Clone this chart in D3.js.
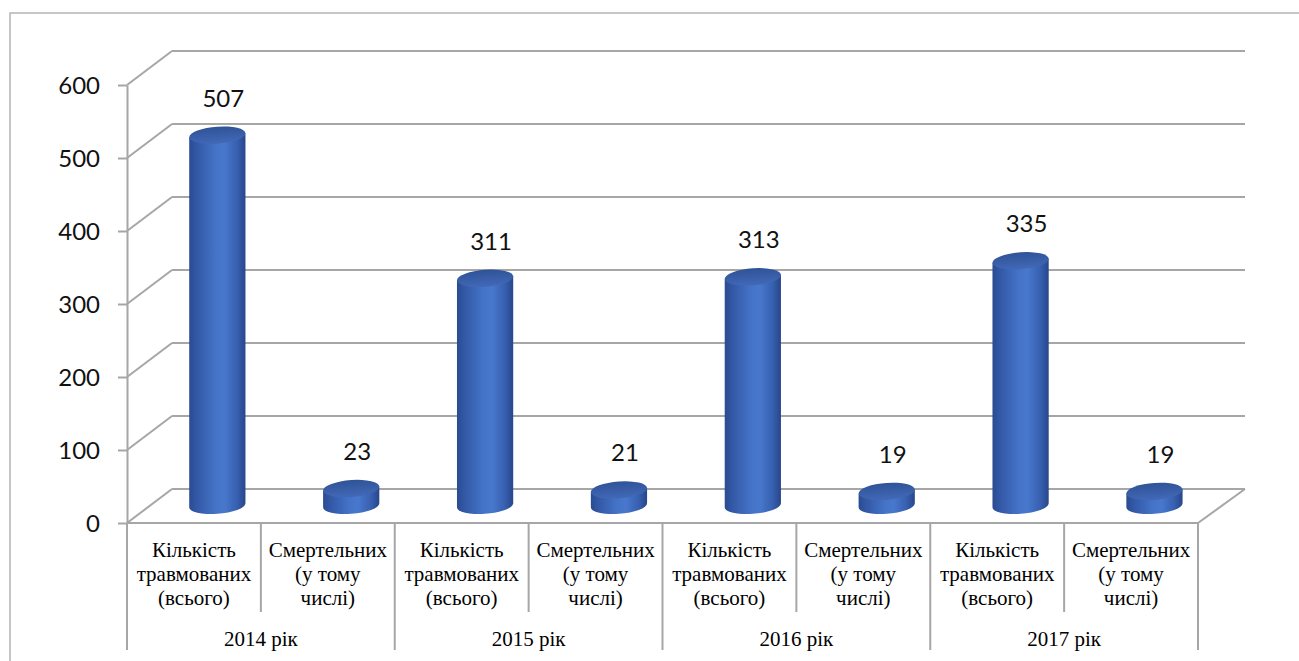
<!DOCTYPE html>
<html>
<head>
<meta charset="utf-8">
<script src="https://cdn.jsdelivr.net/npm/d3@7"></script>
<style>
  html, body { margin: 0; padding: 0; background: #fff; }
  svg { display: block; }
</style>
</head>
<body>
<svg id="chart" width="1299" height="661"></svg>
<script>
// Injury statistics by year
const years = ["2014 рік", "2015 рік", "2016 рік", "2017 рік"];
const subCategories = ["Кількість травмованих (всього)", "Смертельних (у тому числі)"];
const subLabelLines = [["Кількість", "травмованих", "(всього)"], ["Смертельних", "(у тому", "числі)"]];
const injuredTotal = [507, 311, 313, 335];
const fatalIncluded = [23, 21, 19, 19];
const yTicks = [0, 100, 200, 300, 400, 500, 600];

// Flat list of bars: two per year
const rows = [];
years.forEach((yr, i) => {
  rows.push({ key: yr + "|0", year: yr, sub: 0, value: injuredTotal[i] });
  rows.push({ key: yr + "|1", year: yr, sub: 1, value: fatalIncluded[i] });
});

const svg = d3.select("#chart");
const GRID = "#a6a6a6";

// Front plane scales; the back wall is offset by a fixed depth vector
const x = d3.scaleBand().domain(rows.map(d => d.key)).range([127, 1198]).paddingInner(0).paddingOuter(0);
const y = d3.scaleLinear().domain([0, 600]).range([523, 85]);
const DX = 45, DY = -34;
const yBack = v => y(v) + DY;
const BAR_DEPTH = 0.52;                 // bars stand midway into the floor
const yBar = v => y(v) + DY * BAR_DEPTH;

// Outer chart frame
svg.append("path")
  .attr("d", "M10,661V13H1299")
  .attr("fill", "none").attr("stroke", "#b4b4b4").attr("stroke-width", 1.5);

// Back wall gridlines and the side-wall diagonals
const [x0, x1] = x.range();
const grid = svg.append("g").attr("stroke", GRID).attr("stroke-width", 2).attr("fill", "none");
yTicks.forEach(t => {
  grid.append("line").attr("x1", x0 + DX).attr("x2", x1 + DX + 2)
    .attr("y1", yBack(t)).attr("y2", yBack(t));
  grid.append("line").attr("x1", x0).attr("x2", x0 + DX)
    .attr("y1", y(t)).attr("y2", yBack(t));
});
// Floor: front edge and right diagonal
grid.append("line").attr("x1", x0).attr("x2", x1).attr("y1", y(0)).attr("y2", y(0));
grid.append("line").attr("x1", x1).attr("x2", x1 + DX + 2).attr("y1", y(0)).attr("y2", yBack(0));

// Value axis
const sans = "Lato, 'Open Sans', sans-serif";
const axis = svg.append("g").attr("transform", `translate(${x0},0)`)
  .call(d3.axisLeft(y).tickValues(yTicks).tickSize(9).tickSizeOuter(0).tickPadding(18));
axis.select(".domain").attr("stroke", GRID).attr("stroke-width", 2);
axis.selectAll(".tick line").attr("stroke", GRID).attr("stroke-width", 2);
axis.selectAll(".tick text")
  .attr("font-family", sans)
  .attr("font-size", 24).attr("fill", "#111").attr("dy", "0.36em");

// Cylinder shading
const defs = svg.append("defs");
const bodyGrad = defs.append("linearGradient").attr("id", "cylBody")
  .attr("x1", "0%").attr("x2", "100%").attr("y1", "0%").attr("y2", "0%");
[[0, "#2a4b91"], [0.12, "#3257a4"], [0.45, "#4372c6"], [0.62, "#4878cd"], [0.85, "#3760b0"], [1, "#28468a"]]
  .forEach(([o, c]) => bodyGrad.append("stop").attr("offset", o).attr("stop-color", c));
const capGrad = defs.append("linearGradient").attr("id", "cylTop")
  .attr("x1", "0%").attr("x2", "0%").attr("y1", "0%").attr("y2", "100%");
[[0, "#305397"], [1, "#4269b8"]]
  .forEach(([o, c]) => capGrad.append("stop").attr("offset", o).attr("stop-color", c));

// Cylinders
const barW = x.bandwidth() * 0.42;
const rx = barW / 2, ry = 8.5;
const cx = d => x(d.key) + x.bandwidth() / 2 + DX * BAR_DEPTH;

const bars = svg.append("g").selectAll("g").data(rows).join("g")
  .attr("transform", d => `translate(${cx(d)},0) skewY(-4) translate(${-cx(d)},0)`);

bars.append("path")
  .attr("fill", "url(#cylBody)")
  .attr("d", d => {
    const c = cx(d), yt = yBar(d.value), yb = yBar(0);
    return `M${c - rx},${yt}L${c - rx},${yb}A${rx},${ry} 0 0 0 ${c + rx},${yb}L${c + rx},${yt}Z`;
  });
bars.append("ellipse")
  .attr("cx", cx).attr("cy", d => yBar(d.value))
  .attr("rx", rx).attr("ry", ry)
  .attr("fill", "url(#cylTop)");

// Value labels above each cylinder
svg.append("g").selectAll("text").data(rows).join("text")
  .attr("x", d => cx(d) + 6)
  .attr("y", d => yBack(d.value) - 21)
  .attr("dy", "0.36em")
  .attr("text-anchor", "middle")
  .attr("font-family", sans)
  .attr("font-size", 24).attr("fill", "#111")
  .text(d => d.value);

// Category table below the floor
const tableY = y(0);
const seps = svg.append("g").attr("stroke", GRID).attr("stroke-width", 2);
d3.range(rows.length + 1).forEach(i => {
  const xx = i < rows.length ? x(rows[i].key) : x1;
  seps.append("line").attr("x1", xx).attr("x2", xx)
    .attr("y1", tableY).attr("y2", i % 2 === 0 ? 650 : 612);
});

const serif = "Liberation Serif";
const subText = svg.append("g").selectAll("text").data(rows).join("text")
  .attr("text-anchor", "middle")
  .attr("font-family", serif).attr("font-size", 21).attr("fill", "#000");
subText.each(function (d) {
  const t = d3.select(this);
  subLabelLines[d.sub].forEach((line, k) => {
    t.append("tspan")
      .attr("x", x(d.key) + x.bandwidth() / 2)
      .attr("y", 557 + k * 24)
      .attr("font-family", serif)
      .text(line);
  });
});

svg.append("g").selectAll("text").data(years).join("text")
  .attr("x", yr => x(yr + "|0") + x.bandwidth())
  .attr("y", 646)
  .attr("text-anchor", "middle")
  .attr("font-family", serif).attr("font-size", 21).attr("fill", "#000")
  .text(yr => yr);
</script>
</body>
</html>
